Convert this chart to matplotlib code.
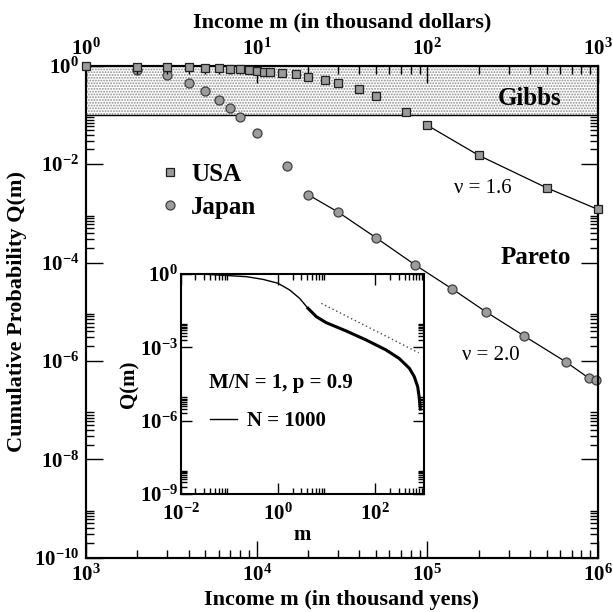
import numpy as np
import matplotlib
matplotlib.use("Agg")
import matplotlib.pyplot as plt
from matplotlib.ticker import FixedLocator, FuncFormatter, NullFormatter
from matplotlib.lines import Line2D

# USA, income in thousand dollars (top axis)
usa_m = [1, 2, 3, 4, 5, 6, 7, 8, 9, 10, 11, 12, 14, 17, 20, 25, 30, 40, 50, 75,
         100, 200, 500, 1000]
usa_q = [1.0, 0.955, 0.95, 0.93, 0.885, 0.88, 0.845, 0.84, 0.82, 0.79, 0.755, 0.745,
         0.70, 0.67, 0.58, 0.51, 0.45, 0.33, 0.24, 0.116, 0.0616, 0.0151, 0.0033, 0.0012]
usa_pareto_from = 100

# Japan, income in thousand yens (bottom axis)
jp_m = [2000, 3000, 4000, 5000, 6000, 7000, 8000, 10000, 15000, 20000, 30000, 50000,
        85000, 140000, 220000, 370000, 650000, 890000, 980000]
jp_q = [0.82, 0.65, 0.44, 0.31, 0.20, 0.14, 0.089, 0.042, 0.0093, 0.0024, 0.00106,
        3.2e-4, 8.9e-5, 2.9e-5, 1.0e-5, 3.2e-6, 9.5e-7, 4.4e-7, 4.1e-7]
jp_pareto_from = 20000

# inset: model, M/N = 1, p = 0.9, N = 1000
inset_m = [0.01, 0.03, 0.1, 0.225, 0.49, 1.0, 1.74, 2.79, 4.13, 6.12, 9.77, 25.1,
           64.6, 166, 309, 501, 631, 741, 794, 832, 840]
inset_q = [1.0, 0.98, 0.855, 0.776, 0.603, 0.417, 0.221, 0.1, 0.0394, 0.018, 0.0102,
           0.00468, 0.002, 7.8e-4, 3.5e-4, 1.38e-4, 6.3e-5, 2.45e-5, 9.5e-6, 3.7e-6, 3.0e-6]
thick_from = 4.13
ref_m = [7.74, 776]
ref_q = [0.063, 6.0e-4]

plt.rcParams['font.family'] = 'Liberation Serif'
plt.rcParams['font.weight'] = 'bold'
plt.rcParams['mathtext.fontset'] = 'custom'
plt.rcParams['mathtext.rm'] = 'Liberation Serif:bold'
plt.rcParams['mathtext.bf'] = 'Liberation Serif:bold'
plt.rcParams['mathtext.it'] = 'Liberation Serif:bold:italic'
plt.rcParams['hatch.linewidth'] = 0.9


def pow10(v, pos):
    return r'$\mathbf{10^{%d}}$' % int(round(np.log10(v)))


def minors(lo, hi, step):
    out = []
    for e in range(lo, hi, step):
        out += [k * 10.0 ** e for k in range(2, 10)]
    return out


fig = plt.figure(figsize=(6.13, 6.12), dpi=100)
ax = fig.add_axes([0.1403, 0.0887, 0.8352, 0.8039])
ax.set_xscale('log')
ax.set_yscale('log')
ax.set_xlim(1e3, 1e6)
ax.set_ylim(1e-10, 1)

ax2 = ax.twiny()
ax2.set_xscale('log')
ax2.set_xlim(1, 1e3)

# Gibbs band
ax.axhspan(0.1, 1, facecolor='white', hatch='......', edgecolor='#8c8c8c', lw=0, zorder=0)
ax.axhline(0.1, color='black', lw=1.0, zorder=1)

mk_usa = dict(marker='s', ms=5.5, mfc='#9a9a9a', mec='#202020', mew=0.9, ls='none')
mk_jp = dict(marker='o', ms=6.5, mfc='#9c9c9c', mec='#404040', mew=0.9, ls='none')

jp_m = np.array(jp_m)
jp_q = np.array(jp_q)
usa_m = np.array(usa_m)
usa_q = np.array(usa_q)
sel = jp_m >= jp_pareto_from
ax.plot(jp_m[sel], jp_q[sel], color='black', lw=0.9, zorder=2)
ax.plot(jp_m, jp_q, zorder=3, clip_on=False, **mk_jp)
sel = usa_m >= usa_pareto_from
ax2.plot(usa_m[sel], usa_q[sel], color='black', lw=0.9, zorder=2)
ax2.plot(usa_m, usa_q, zorder=3, clip_on=False, **mk_usa)

# ticks
ax.yaxis.set_major_locator(FixedLocator([10.0 ** e for e in range(-10, 1, 2)]))
ax.yaxis.set_minor_locator(FixedLocator(minors(-10, 0, 2)))
ax.yaxis.set_major_formatter(FuncFormatter(pow10))
ax.yaxis.set_minor_formatter(NullFormatter())
ax.xaxis.set_major_locator(FixedLocator([1e3, 1e4, 1e5, 1e6]))
ax.xaxis.set_minor_locator(FixedLocator(minors(3, 6, 1)))
ax.xaxis.set_major_formatter(FuncFormatter(pow10))
ax.xaxis.set_minor_formatter(NullFormatter())
ax2.xaxis.set_major_locator(FixedLocator([1, 10, 100, 1000]))
ax2.xaxis.set_minor_locator(FixedLocator(minors(0, 3, 1)))
ax2.xaxis.set_major_formatter(FuncFormatter(pow10))
ax2.xaxis.set_minor_formatter(NullFormatter())

ax.tick_params(which='both', direction='in', left=True, right=True, top=False,
               labelsize=15, width=1.0)
ax.tick_params(which='major', length=12, pad=5)
ax.tick_params(which='minor', length=6)
ax2.tick_params(which='both', direction='in', labelsize=15, width=1.0)
ax2.tick_params(which='major', length=12, pad=4)
ax2.tick_params(which='minor', length=6)
for a in (ax, ax2):
    for s in a.spines.values():
        s.set_linewidth(1.5)

ax.set_xlabel('Income m (in thousand yens)', fontsize=16, fontweight='bold', labelpad=3)
ax2.set_xlabel('Income m (in thousand dollars)', fontsize=16, fontweight='bold', labelpad=8)
ax.set_ylabel('Cumulative Probability Q(m)', fontsize=16, fontweight='bold', labelpad=5)

ax.text(0.867, 0.934, 'Gibbs', transform=ax.transAxes, fontsize=18,
        fontweight='bold', ha='center', va='center')
ax.text(0.879, 0.611, 'Pareto', transform=ax.transAxes, fontsize=18,
        fontweight='bold', ha='center', va='center')
ax.text(0.775, 0.751, 'ν = 1.6', transform=ax.transAxes, fontsize=15,
        fontweight='normal', ha='center', va='center')
ax.text(0.791, 0.412, 'ν = 2.0', transform=ax.transAxes, fontsize=15,
        fontweight='normal', ha='center', va='center')

handles = [Line2D([], [], **mk_usa), Line2D([], [], **mk_jp)]
ax2.legend(handles, ['USA', 'Japan'], loc='center left', bbox_to_anchor=(0.1397, 0.7456),
           frameon=False, handlelength=1.0, handletextpad=0.34,
           labelspacing=0.4, borderpad=0, borderaxespad=0, prop={'weight': 'bold', 'size': 18})

# inset
ins = fig.add_axes([0.2948, 0.1928, 0.3969, 0.3595])
ins.set_xscale('log')
ins.set_yscale('log')
ins.set_xlim(1e-2, 1e3)
ins.set_ylim(1e-9, 1)
inset_m = np.array(inset_m)
inset_q = np.array(inset_q)
line, = ins.plot(inset_m, inset_q, color='black', lw=1.0)
sel = inset_m >= thick_from
ins.plot(inset_m[sel], inset_q[sel], color='black', lw=2.2)
ins.plot(ref_m, ref_q, color='#444444', lw=1.0, ls=(0, (1, 2)))
ins.xaxis.set_major_locator(FixedLocator([1e-2, 1, 1e2]))
ins.xaxis.set_minor_locator(FixedLocator(minors(-2, 3, 2)))
ins.xaxis.set_major_formatter(FuncFormatter(pow10))
ins.xaxis.set_minor_formatter(NullFormatter())
ins.yaxis.set_major_locator(FixedLocator([1, 1e-3, 1e-6, 1e-9]))
ins.yaxis.set_minor_locator(FixedLocator(minors(-9, 0, 3)))
ins.yaxis.set_major_formatter(FuncFormatter(pow10))
ins.yaxis.set_minor_formatter(NullFormatter())
ins.tick_params(which='both', direction='in', top=True, right=True, labelsize=15, width=1.0)
ins.tick_params(which='major', length=8)
ins.tick_params(axis='x', which='major', pad=7)
ins.tick_params(axis='y', which='major', pad=2)
ins.tick_params(which='minor', length=4)
for s in ins.spines.values():
    s.set_linewidth(1.5)
ins.set_xlabel('m', fontsize=15, fontweight='bold', labelpad=0)
ins.set_ylabel('Q(m)', fontsize=15, fontweight='bold', labelpad=0)
ins.text(0.41, 0.5045, 'M/N = 1, p = 0.9', transform=ins.transAxes, fontsize=15,
         fontweight='bold', ha='center', va='center')
ins.legend([line], ['N = 1000'], loc='center left', bbox_to_anchor=(0.1204, 0.332),
           frameon=False, handlelength=1.3, handletextpad=0.47, borderpad=0,
           borderaxespad=0, prop={'weight': 'bold', 'size': 15})

fig.savefig('out.png', dpi=100)
